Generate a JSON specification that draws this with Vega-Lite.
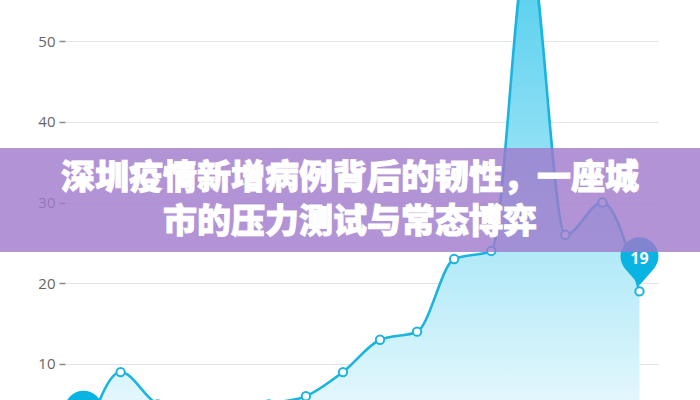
{
  "$schema": "https://vega.github.io/schema/vega-lite/v6.json",
  "autosize": "none",
  "width": 593,
  "height": 400,
  "padding": {"left": 65, "right": 42, "top": 0, "bottom": 0},
  "background": "#ffffff",
  "config": {"view": {"stroke": null}},
  "datasets": {
    "series": [
      {"day": 0, "v": 0},
      {"day": 1, "v": 9},
      {"day": 2, "v": 5},
      {"day": 3, "v": 4},
      {"day": 4, "v": 3},
      {"day": 5, "v": 5},
      {"day": 6, "v": 6},
      {"day": 7, "v": 9},
      {"day": 8, "v": 13},
      {"day": 9, "v": 14},
      {"day": 10, "v": 23},
      {"day": 11, "v": 24},
      {"day": 12, "v": 62},
      {"day": 13, "v": 26},
      {"day": 14, "v": 30},
      {"day": 15, "v": 19}
    ],
    "banner": [{"name": "banner"}],
    "headline": [{"text": "深圳疫情新增病例背后的韧性，一座城\n市的压力测试与常态博弈"}]
  },
  "layer": [
    {
      "data": {"name": "series"},
      "mark": {"type": "area", "interpolate": "monotone",
        "fill": {"gradient": "linear", "x1": 0, "y1": 0, "x2": 0, "y2": 1,
          "stops": [{"offset": 0, "color": "#4dcdee"}, {"offset": 1, "color": "#f0fbfe"}]}},
      "encoding": {
        "x": {"field": "day", "type": "quantitative", "scale": {"domain": [-0.5, 15.5], "nice": false, "zero": false}, "axis": null},
        "y": {"field": "v", "type": "quantitative", "scale": {"domain": [5.54, 55.08], "nice": false, "zero": false},
          "axis": {"title": null, "values": [10, 20, 30, 40, 50], "grid": true, "gridColor": "#e3e3e9", "gridWidth": 1.2, "domain": false,
            "tickColor": "#8a8a8a", "tickSize": 6, "tickWidth": 1.5, "labelFontSize": 15, "labelColor": "#666666", "labelPadding": 4, "labelFont": "Open Sans"}},
        "y2": {"datum": 0}
      }
    },
    {
      "data": {"name": "series"},
      "mark": {"type": "line", "interpolate": "monotone", "stroke": "#1cb4dd", "strokeWidth": 2.6},
      "encoding": {
        "x": {"field": "day", "type": "quantitative"},
        "y": {"field": "v", "type": "quantitative"}
      }
    },
    {
      "data": {"name": "series"},
      "mark": {"type": "point", "shape": "circle", "size": 70, "filled": true, "fill": "#ffffff", "stroke": "#1cb4dd", "strokeWidth": 2, "opacity": 1},
      "encoding": {
        "x": {"field": "day", "type": "quantitative"},
        "y": {"field": "v", "type": "quantitative"}
      }
    },
    {
      "data": {"name": "series"},
      "transform": [{"filter": "datum.day == 0 || datum.day == 15"}],
      "mark": {"type": "point", "shape": "M -0.757 -1.187 A 1 1 0 1 1 0.757 -1.187 L 0 -0.316 Z", "size": 1444, "filled": true, "fill": "#0ab4e2", "strokeWidth": 0, "opacity": 1},
      "encoding": {
        "x": {"field": "day", "type": "quantitative"},
        "y": {"field": "v", "type": "quantitative"}
      }
    },
    {
      "data": {"name": "series"},
      "transform": [{"filter": "datum.day == 15"}],
      "mark": {"type": "text", "dy": -32, "fontSize": 16, "fontWeight": "bold", "color": "#ffffff", "font": "Open Sans", "baseline": "middle", "align": "center"},
      "encoding": {
        "x": {"field": "day", "type": "quantitative"},
        "y": {"field": "v", "type": "quantitative"},
        "text": {"field": "v", "type": "quantitative"}
      }
    },
    {
      "data": {"name": "banner"},
      "mark": {"type": "rect", "fill": "#9f79cc", "opacity": 0.8},
      "encoding": {"x": {"datum": -2.3}, "x2": {"datum": 16.7}, "y": {"datum": 36.75}, "y2": {"datum": 23.87}}
    },
    {
      "data": {"name": "headline"},
      "mark": {"type": "text", "fontSize": 34, "fontWeight": 900, "font": "Noto Sans CJK SC", "color": "#ffffff", "stroke": "#ffffff", "strokeWidth": 0.9, "align": "center", "baseline": "middle", "lineBreak": "\n", "lineHeight": 44},
      "encoding": {"x": {"datum": 7.19}, "y": {"datum": 32.97}, "text": {"field": "text", "type": "nominal"}}
    }
  ]
}
